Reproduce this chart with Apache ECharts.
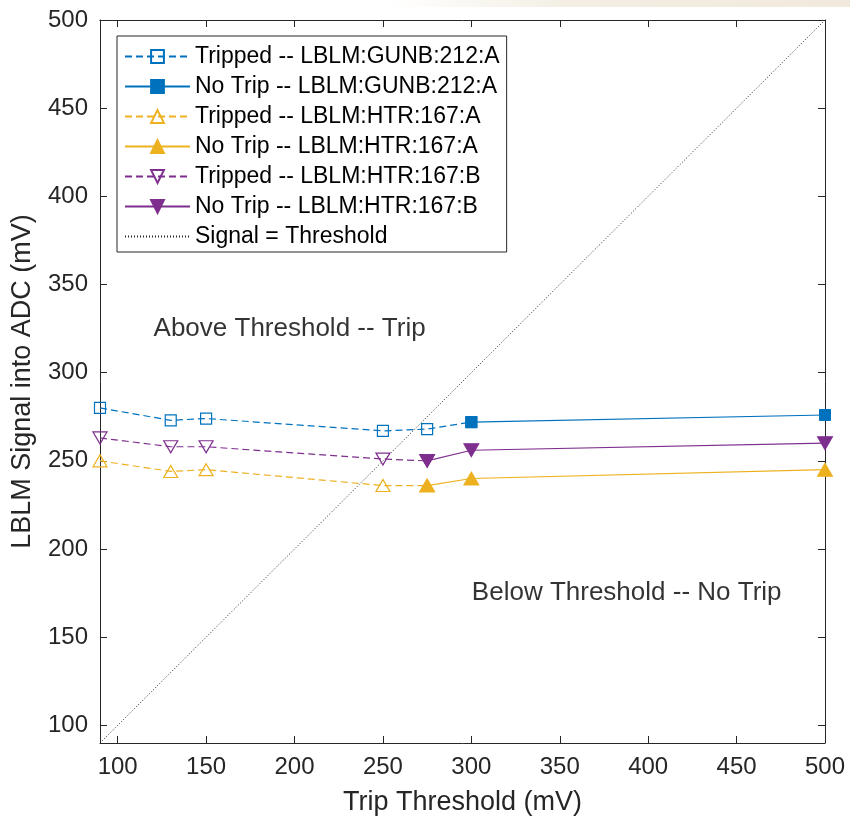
<!DOCTYPE html>
<html>
<head>
<meta charset="utf-8">
<script src="https://cdn.jsdelivr.net/npm/echarts@6/dist/echarts.min.js"></script>
<style>
  html, body { margin: 0; padding: 0; background: #ffffff; }
  #chart { width: 850px; height: 821px; }
</style>
</head>
<body>
<div id="chart"></div>
<script>
// Tick positions (mV)
const xTicks = [100, 150, 200, 250, 300, 350, 400, 450, 500];
const yTicks = [100, 150, 200, 250, 300, 350, 400, 450, 500];

// LBLM:GUNB:212:A
const gunbTrippedX = [90, 130, 150, 250, 275, 300];
const gunbTrippedY = [280, 273, 274, 267, 268, 272];
const gunbNoTripX = [300, 500];
const gunbNoTripY = [272, 276];

// LBLM:HTR:167:A
const htrATrippedX = [90, 130, 150, 250, 275];
const htrATrippedY = [250, 244, 245, 236, 236];
const htrANoTripX = [275, 300, 500];
const htrANoTripY = [236, 240, 245];

// LBLM:HTR:167:B
const htrBTrippedX = [90, 130, 150, 250, 275];
const htrBTrippedY = [263, 258, 258, 251, 250];
const htrBNoTripX = [275, 300, 500];
const htrBNoTripY = [250, 256, 260];

// Signal = Threshold reference line
const thresholdX = [90, 500];
const thresholdY = [90, 500];

// Region annotations (data coordinates)
const annotationTexts = ['Above Threshold -- Trip', 'Below Threshold -- No Trip'];
const annotationX = [120, 300];
const annotationY = [325, 175];

const BLUE = '#0072BD';
const YELLOW = '#EDB120';
const PURPLE = '#7E2F8E';
const AXIS = '#262626';
const FONT = '"Liberation Sans", Arial, Helvetica, sans-serif';

const zip = (xs, ys) => xs.map((x, i) => [x, ys[i]]);

function tripped(name, xs, ys, color, symbol, size, rotate) {
  return {
    name, type: 'line', data: zip(xs, ys),
    symbol, symbolSize: size, symbolRotate: rotate || 0,
    lineStyle: { color, width: 1.2, type: [7, 4] },
    itemStyle: { color: 'rgba(255,255,255,0)', borderColor: color, borderWidth: 1.2 },
    emphasis: { disabled: true }, z: 3
  };
}
function noTrip(name, xs, ys, color, symbol, size, rotate) {
  return {
    name, type: 'line', data: zip(xs, ys),
    symbol, symbolSize: size, symbolRotate: rotate || 0,
    lineStyle: { color, width: 1.2, type: 'solid' },
    itemStyle: { color, borderColor: color, borderWidth: 1 },
    emphasis: { disabled: true }, z: 4
  };
}

const names = [
  'Tripped -- LBLM:GUNB:212:A',
  'No Trip -- LBLM:GUNB:212:A',
  'Tripped -- LBLM:HTR:167:A',
  'No Trip -- LBLM:HTR:167:A',
  'Tripped -- LBLM:HTR:167:B',
  'No Trip -- LBLM:HTR:167:B',
  'Signal = Threshold'
];

const series = [
  tripped(names[0], gunbTrippedX, gunbTrippedY, BLUE, 'rect', 11),
  noTrip(names[1], gunbNoTripX, gunbNoTripY, BLUE, 'rect', 11),
  tripped(names[2], htrATrippedX, htrATrippedY, YELLOW, 'triangle', [14, 12]),
  noTrip(names[3], htrANoTripX, htrANoTripY, YELLOW, 'triangle', [15, 13]),
  tripped(names[4], htrBTrippedX, htrBTrippedY, PURPLE, 'triangle', [14, 12], 180),
  noTrip(names[5], htrBNoTripX, htrBNoTripY, PURPLE, 'triangle', [15, 13], 180),
  {
    name: names[6], type: 'line', data: zip(thresholdX, thresholdY),
    symbol: 'none', lineStyle: { color: '#222222', width: 1, type: [1, 2] },
    itemStyle: { color: 'rgba(0,0,0,0)', borderColor: 'rgba(0,0,0,0)' },
    emphasis: { disabled: true }, z: 2
  },
  {
    name: 'annotations', type: 'scatter', silent: true,
    data: annotationX.map((x, i) => ({ value: [x, annotationY[i]], label: { formatter: annotationTexts[i] } })),
    symbolSize: 1, itemStyle: { color: 'rgba(0,0,0,0)' },
    label: { show: true, position: 'right', distance: 0, fontSize: 26, color: '#000', fontFamily: FONT },
    z: 5
  }
];

const commonAxis = {
  type: 'value', min: 90, max: 500,
  splitLine: { show: false },
  axisLine: { show: true, onZero: false, lineStyle: { color: AXIS, width: 1 } }
};

const option = {
  animation: false,
  backgroundColor: '#ffffff',
  textStyle: { fontFamily: FONT },
  grid: { left: 100, top: 20, right: 25, bottom: 78, containLabel: false },
  xAxis: [
    Object.assign({}, commonAxis, {
      position: 'bottom',
      name: 'Trip Threshold (mV)', nameLocation: 'middle', nameGap: 46,
      nameTextStyle: { fontSize: 27, color: AXIS, fontFamily: FONT },
      axisTick: { show: true, inside: true, length: 7, customValues: xTicks, lineStyle: { color: AXIS } },
      axisLabel: { show: true, customValues: xTicks, fontSize: 24, color: AXIS, margin: 12, fontFamily: FONT }
    }),
    Object.assign({}, commonAxis, {
      position: 'top',
      axisTick: { show: true, inside: true, length: 7, customValues: xTicks, lineStyle: { color: AXIS } },
      axisLabel: { show: false }
    })
  ],
  yAxis: [
    Object.assign({}, commonAxis, {
      position: 'left',
      name: 'LBLM Signal into ADC (mV)', nameLocation: 'middle', nameGap: 64,
      nameTextStyle: { fontSize: 27, color: AXIS, fontFamily: FONT },
      axisTick: { show: true, inside: true, length: 7, customValues: yTicks, lineStyle: { color: AXIS } },
      axisLabel: { show: true, customValues: yTicks, fontSize: 24, color: AXIS, margin: 12, fontFamily: FONT }
    }),
    Object.assign({}, commonAxis, {
      position: 'right',
      axisTick: { show: true, inside: true, length: 7, customValues: yTicks, lineStyle: { color: AXIS } },
      axisLabel: { show: false }
    })
  ],
  legend: {
    data: names,
    orient: 'vertical',
    left: 117, top: 36,
    padding: [9, 7, 4, 7],
    itemWidth: 65, itemHeight: 16, itemGap: 7,
    backgroundColor: '#ffffff',
    borderColor: AXIS, borderWidth: 1,
    selectedMode: false,
    textStyle: { fontSize: 23, lineHeight: 23, color: '#000', fontFamily: FONT }
  },
  graphic: [{
    type: 'rect', silent: true, z: -1,
    shape: { x: 390, y: 0, width: 460, height: 7 },
    style: {
      fill: {
        type: 'linear', x: 0, y: 0, x2: 1, y2: 0,
        colorStops: [
          { offset: 0, color: 'rgba(241,234,220,0)' },
          { offset: 0.4, color: 'rgba(241,234,220,0.8)' },
          { offset: 1, color: 'rgba(241,234,220,1)' }
        ]
      }
    }
  }],
  series
};

const chart = echarts.init(document.getElementById('chart'), null, { renderer: 'canvas' });
chart.setOption(option);
</script>
</body>
</html>
